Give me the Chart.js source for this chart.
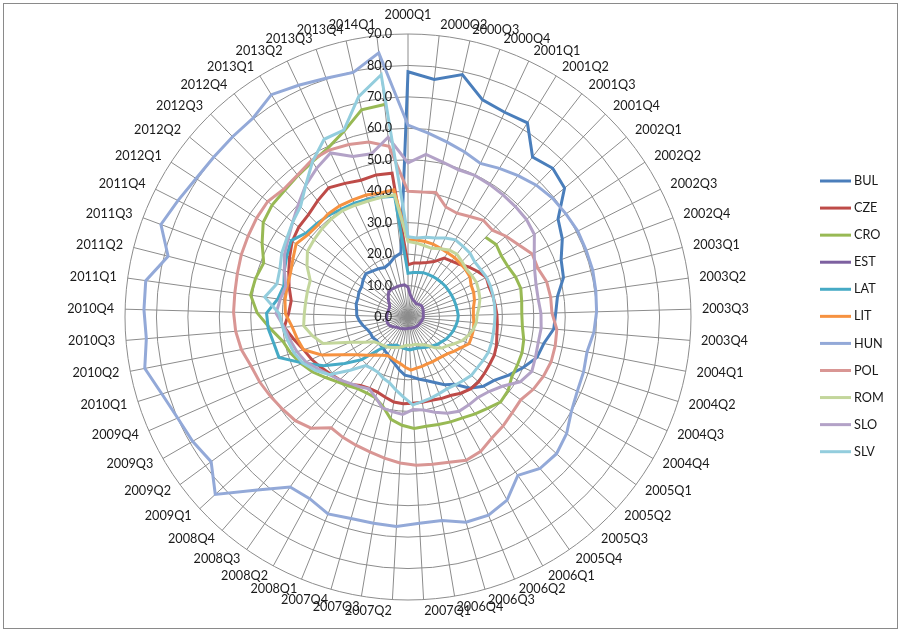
<!DOCTYPE html>
<html>
<head>
<meta charset="utf-8">
<script src="https://cdn.jsdelivr.net/npm/chart.js@4.4.1/dist/chart.umd.min.js"></script>
<style>
    html, body { margin: 0; padding: 0; background: #fff; }
    #wrap { position: relative; width: 908px; height: 639px; }
    #frame { position: absolute; left: 3px; top: 3px; width: 895px; height: 626px; border: 1px solid #8a8a8a; box-sizing: border-box; }
    canvas { position: absolute; left: 0; top: 0; }
</style>
</head>
<body>
<div id="wrap">
    <div id="frame"></div>
    <canvas id="radar" width="908" height="639"></canvas>
</div>
<script>
const QUARTERS = [];
for (let y = 2000; y <= 2014; y++) {
    for (let q = 1; q <= 4; q++) {
        if (y === 2014 && q > 1) break;
        QUARTERS.push(`${y}Q${q}`);
    }
}

const TICKS = [0, 10, 20, 30, 40, 50, 60, 70, 80, 90];

const BUL = [78, 76, 79, 73, 72, 72.5, 64.5, 66, 64.5, 57, 55, 52, 51, 48, 47, 46.5, 44, 43, 40, 37, 34, 32.5, 30, 26, 24.5, 22.5, 21, 20, 19, 18.5, 17, 15.5, 14.5, 13.5, 13, 12.5, 12.5, 12.5, 13, 13, 13.5, 14.5, 15.5, 16.3, 16.5, 17, 17, 17.5, 17.6, 18.5, 19.2, 18.5, 18, 17.4, 18, 19.5, 20.5];
const CZE = [16.6, 17.3, 17.6, 18.3, 19.5, 22, 22.5, 23.4, 25, 26.5, 27.9, 27.5, 27.8, 28, 28.3, 28.5, 28.8, 29.5, 30, 30, 30.2, 30.5, 30.3, 29.5, 28.4, 28, 27.5, 27.5, 27.5, 27.6, 27.4, 26.5, 25.8, 25.8, 26.5, 28.4, 29.5, 30.6, 32, 33.5, 34.8, 37, 39.5, 38, 37.5, 39, 40.5, 42.2, 44, 45, 45.4, 46.8, 48.2, 47, 46, 46.3, 46];
const CRO = [null, null, null, null, null, null, null, 35.4, 36.3, 35.5, 35.6, 36.5, 37, 36.5, 36.2, 36.5, 37.5, 38, 38, 38.1, 39.5, 40, 38.5, 37.5, 36.5, 36, 35.5, 35.2, 35.5, 34.5, 33, 29.5, 27.7, 27.5, 27.8, 29, 30.5, 32.5, 35, 37, 39, 40.5, 44, 48, 50.5, 50, 49, 52, 55, 56, 56.2, 57, 58, 59.5, 62.5, 67.5, 68];
const EST = [9.5, 7, 6, 5.5, 5.3, 5, 5.2, 5.4, 5.6, 5.5, 5.3, 5.2, 5, 4.9, 4.9, 4.8, 4.6, 4.5, 4.3, 4.2, 4.2, 4.1, 4, 3.9, 3.8, 3.7, 3.7, 3.6, 3.6, 3.7, 3.8, 3.9, 4, 4.2, 4.4, 4.6, 4.8, 5.4, 6, 6.5, 6.8, 6.8, 6.8, 6.8, 6.7, 6.6, 6.6, 6.6, 7, 8, 9, 10, 10.3, 10.2, 10.3, 10.3, 10.3];
const LAT = [13.9, 14.2, 14.5, 14.9, 15, 15.1, 15.2, 15.3, 15.4, 15.4, 15.5, 15.6, 15.7, 15.8, 16, 15.8, 15.4, 15, 14.5, 14, 13.3, 12.8, 12.1, 11.5, 11, 10.6, 10.3, 10.3, 10.5, 10.2, 10, 9.8, 9.6, 10.3, 11, 13.5, 20, 25, 31, 36.5, 43, 43.5, 44.6, 45, 41.8, 40.7, 42, 43.2, 44.4, 42, 41.5, 41, 40.3, 40, 39.5, 39, 38.6];
const LIT = [24.5, 24.6, 24.6, 24.5, 24.2, 24, 24, 23.8, 23.7, 23.5, 22.5, 22.3, 21.8, 21, 20.8, 21, 21.2, 21.2, 21.2, 19.5, 18.3, 17.2, 16.6, 16.3, 16.2, 16.1, 16.3, 16.5, 16.9, 16, 15, 14.5, 14, 13.9, 14.8, 16, 18, 20.3, 24, 30, 34.8, 35.9, 37, 39, 39.5, 39.6, 39.9, 41, 42.5, 41.2, 40.9, 41.5, 41.5, 41.2, 41, 40.4, 40.7];
const HUN = [61, 58.8, 57, 55.5, 54, 55.5, 57, 58.5, 59.5, 60, 60.5, 60.5, 60.6, 60.3, 60, 59.3, 58, 58.5, 58.8, 60, 62.6, 64.2, 63.9, 61.3, 66.2, 68, 67.8, 65.6, 65.7, 66.7, 66.5, 66.6, 67.6, 65.7, 65.8, 73, 83.3, 77.7, 79.1, 80, 82, 85.3, 83.5, 84, 84.2, 78.7, 83.9, 82, 80.5, 80, 80, 80.2, 83, 81.5, 80.3, 79.7, 84.5];
const POL = [40, 40, 40.6, 37, 36.5, 37.5, 39, 38.5, 40.4, 42, 44.3, 44.1, 45.5, 45.8, 45.8, 47.5, 47.7, 47.7, 47, 46, 44.5, 45, 46, 46.8, 48.6, 49.2, 48, 47.5, 47.2, 46.5, 45.5, 44.6, 44, 43.5, 42.9, 46.9, 48.7, 49.5, 50.5, 51.5, 52.3, 54, 55, 55.5, 55.6, 56, 56.6, 57, 57.5, 57.8, 56.7, 57.2, 58.5, 58.7, 58, 57, 54.6];
const ROM = [24, 23.7, 23.3, 23.1, 24, 25, 25.3, 24.6, 24, 24.2, 24.4, 24, 23.6, 22.8, 22, 21.8, 21.1, 20, 18.8, 17, 15.5, 14.6, 13, 11, 10, 9.5, 9, 9, 9, 9, 9.5, 10, 10.5, 11, 11.6, 12, 12.5, 13.3, 16, 19.9, 28.3, 31, 33.3, 33, 32.9, 33, 33.2, 36, 38.2, 38.7, 39.2, 39.6, 39.7, 39.3, 39, 39, 39.1];
const SLO = [49, 52, 50.5, 49.5, 49.8, 49.5, 49.2, 49, 48.8, 48, 45, 43, 42, 41.8, 42.3, 42.5, 42.2, 42.5, 43, 41.2, 37.2, 35, 33.9, 34, 34.1, 33, 31.5, 30, 29.5, 31, 30.5, 30, 27.5, 26, 27, 28, 29.5, 31, 33, 35.5, 37, 38.2, 39.5, 42, 41, 40.1, 42, 44, 45.5, 47.5, 50, 53, 55.5, 57.7, 54, 53.2, 57.5];
const SLV = [25.5, 25.3, 26, 26.6, 27.8, 28.8, 28.5, 28.3, 27.5, 27.6, 28, 28, 27.9, 27.8, 27.7, 27.6, 27.6, 27.8, 27.9, 27.6, 27.3, 27.4, 26.8, 26.3, 26, 26.3, 26.8, 27.3, 28, 25.5, 23.5, 21.7, 21, 20, 20, 20.5, 25, 31, 34, 36.5, 38, 39, 40, 41, 46, 43, 43.5, 45, 46, 47.5, 49, 53, 58, 62.5, 62.8, 71.8, 77.5];

const SERIES_NAMES = ["BUL", "CZE", "CRO", "EST", "LAT", "LIT", "HUN", "POL", "ROM", "SLO", "SLV"];
const SERIES_DATA = [BUL, CZE, CRO, EST, LAT, LIT, HUN, POL, ROM, SLO, SLV];
const SERIES_COLORS = ["#4a7ebb", "#be4b48", "#98b954", "#7d60a0", "#46aac5", "#f69240", "#93a9d8", "#d99694", "#c3d69b", "#b3a2c7", "#93cddd"];

const FONT = "Lato, 'Liberation Sans', sans-serif";
const FONT_SIZE = 12.7;

// axis value labels + category labels + legend, drawn from the scale's own geometry
const excelDecor = {
    id: "excelDecor",
    afterDatasetsDraw(chart) {
        const { ctx } = chart;
        const scale = chart.scales.r;
        ctx.save();
        ctx.font = `${FONT_SIZE}px ${FONT}`;
        ctx.fillStyle = "#1a1a1a";
        ctx.textBaseline = "middle";

        ctx.textAlign = "right";
        TICKS.forEach((v) => {
            const d = scale.getDistanceFromCenterForValue(v);
            ctx.fillText(v.toFixed(1), scale.xCenter - 16, scale.yCenter - d);
        });

        // Excel anchors the text edge on the spoke end, not the text centre
        QUARTERS.forEach((label, i) => {
            const deg = (scale.getIndexAngle(i) * 180) / Math.PI;
            const p = scale.getPointPosition(i, scale.drawingArea + 11);
            let y = p.y;
            if (i === 0) {
                ctx.textAlign = "center";
                y -= 8;
            } else {
                ctx.textAlign = deg <= 180 ? "left" : "right";
            }
            ctx.fillText(label, p.x, y);
        });

        ctx.textAlign = "left";
        SERIES_NAMES.forEach((name, k) => {
            const y = 181 + k * 27.07;
            ctx.strokeStyle = SERIES_COLORS[k];
            ctx.lineWidth = 3;
            ctx.beginPath();
            ctx.moveTo(820, y);
            ctx.lineTo(851, y);
            ctx.stroke();
            ctx.fillText(name, 854, y);
        });
        ctx.restore();
    },
};

new Chart(document.getElementById("radar"), {
    type: "radar",
    data: {
        labels: QUARTERS,
        datasets: SERIES_NAMES.map((name, k) => ({
            label: name,
            data: SERIES_DATA[k],
            borderColor: SERIES_COLORS[k],
            backgroundColor: SERIES_COLORS[k],
            borderWidth: 3,
            pointRadius: 0,
            pointHoverRadius: 0,
            fill: false,
            tension: 0,
            spanGaps: false,
            order: SERIES_NAMES.length - k,
        })),
    },
    options: {
        responsive: false,
        animation: false,
        devicePixelRatio: 1,
        layout: { padding: { left: 125, right: 217, top: 34, bottom: 39 } },
        plugins: {
            legend: { display: false },
            tooltip: { enabled: false },
        },
        scales: {
            r: {
                min: 0,
                max: 90,
                ticks: { stepSize: 10, display: false },
                pointLabels: { display: false },
                grid: { circular: true, color: "#8c8c8c", lineWidth: 1 },
                angleLines: { color: "#8c8c8c", lineWidth: 1 },
            },
        },
    },
    plugins: [excelDecor],
});
</script>
</body>
</html>
